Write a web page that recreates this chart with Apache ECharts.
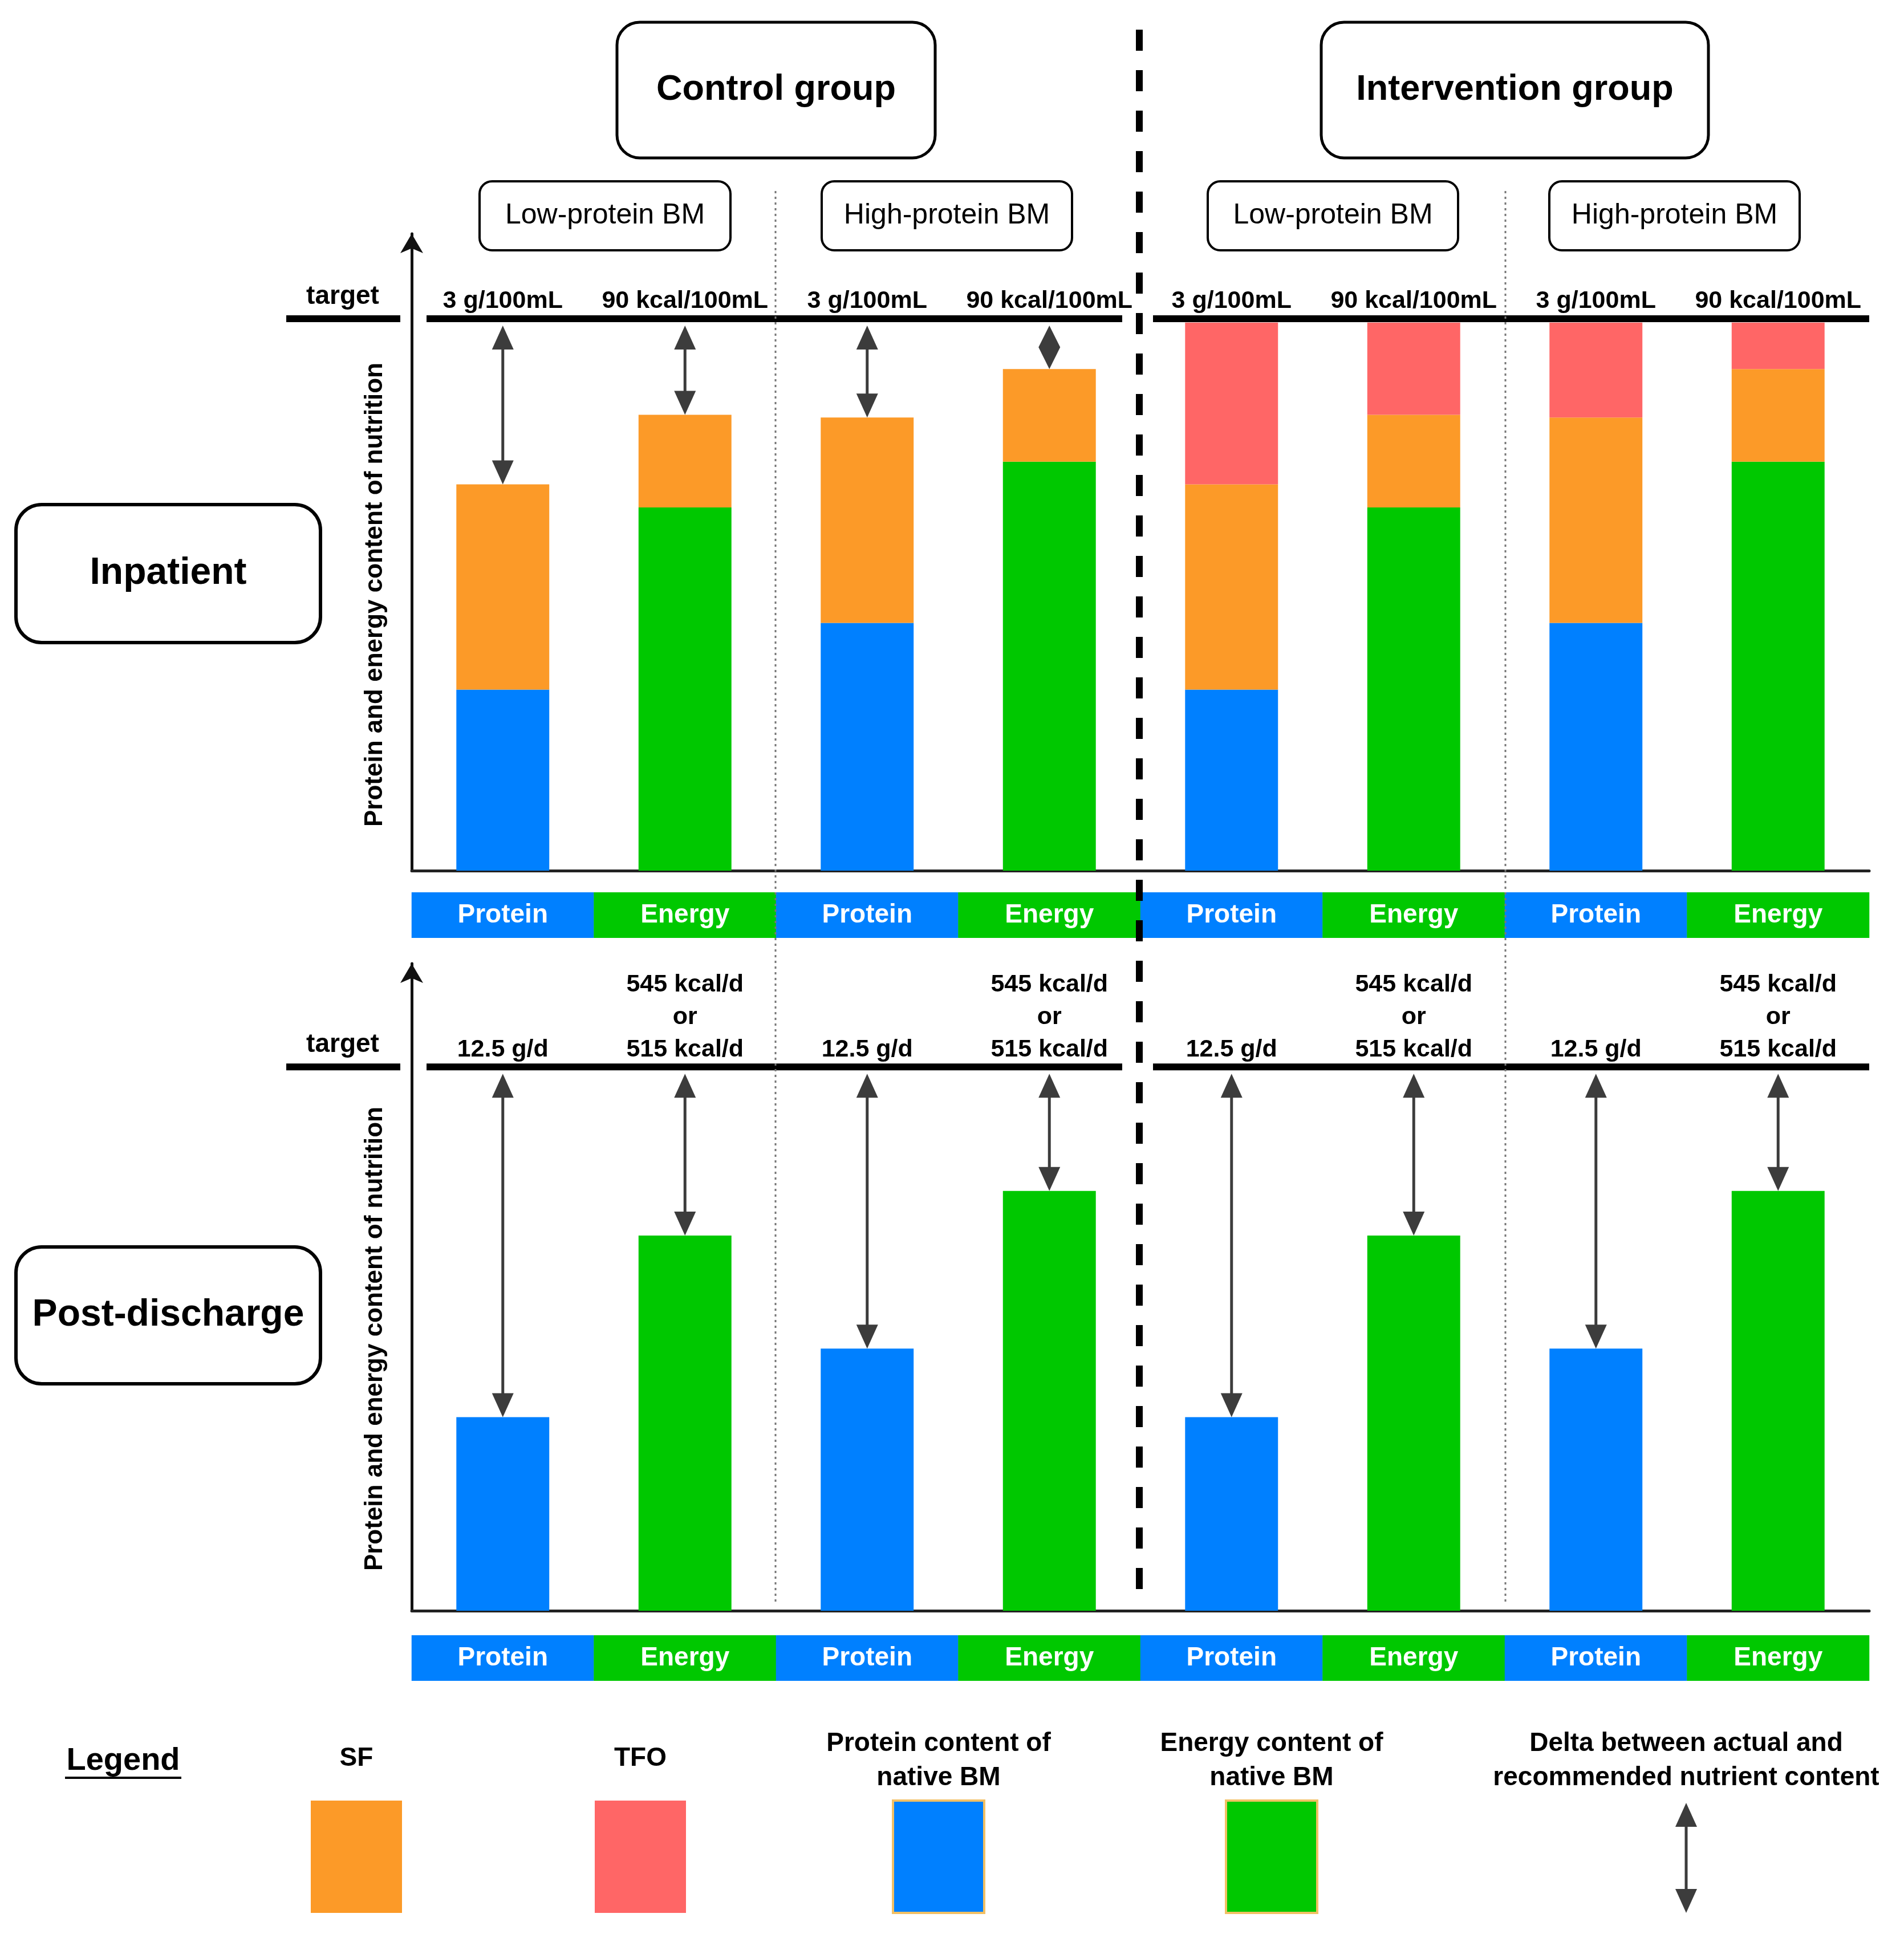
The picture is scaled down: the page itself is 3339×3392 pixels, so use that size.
<!DOCTYPE html>
<html><head><meta charset="utf-8">
<script src="https://cdn.jsdelivr.net/npm/echarts@6/dist/echarts.min.js"></script>
<style>html,body{margin:0;padding:0;background:#fff}#c{width:3339px;height:3392px}</style>
</head><body><div id="c"></div>
<script>
// ---------------- data ----------------
const categories = ['Protein','Energy','Protein','Energy','Protein','Energy','Protein','Energy'];
const groups = ['Control group','Intervention group'];
const subgroups = ['Low-protein BM','High-protein BM','Low-protein BM','High-protein BM'];
const phases = ['Inpatient','Post-discharge'];
const targetValue = 100;
const inpatientNative = [32.8, 65.8, 44.9, 74.1, 32.8, 65.8, 44.9, 74.1];
const inpatientSF     = [37.2, 16.8, 37.2, 16.8, 37.2, 16.8, 37.2, 16.8];
const inpatientTFO    = [0, 0, 0, 0, 29.3, 16.7, 17.2, 8.4];
const postNative      = [35.6, 69.0, 48.2, 77.2, 35.6, 69.0, 48.2, 77.2];
const inpatientTargetLabels = ['3 g/100mL','90 kcal/100mL','3 g/100mL','90 kcal/100mL','3 g/100mL','90 kcal/100mL','3 g/100mL','90 kcal/100mL'];
const postTargetLabels = ['12.5 g/d','545 kcal/d\nor\n515 kcal/d','12.5 g/d','545 kcal/d\nor\n515 kcal/d','12.5 g/d','545 kcal/d\nor\n515 kcal/d','12.5 g/d','545 kcal/d\nor\n515 kcal/d'];
const inpatientArrowIdx = [0, 1, 2, 3];
const postArrowIdx = [0, 1, 2, 3, 4, 5, 6, 7];
const yTitle = 'Protein and energy content of nutrition';
const targetWord = 'target';
const legendTitle = 'Legend';
const legendLabels = ['SF','TFO','Protein content of\nnative BM','Energy content of\nnative BM','Delta between actual and\nrecommended nutrient content'];

// ---------------- style ----------------
const FONT = '"Liberation Sans", Arial, Helvetica, sans-serif';
const BLUE = '#0080FF', GREEN = '#00C800', ORANGE = '#FC9A28', RED = '#FF6666', ARROW = '#3c3c3c';
const nativeColor = p => categories[p.dataIndex] === 'Protein' ? BLUE : GREEN;

function decorRender(params, api) {
  const y = api.coord([0, targetValue])[1];
  const yb = api.coord([0, 0])[1];
  const bw = api.coord([1, 0])[0] - api.coord([0, 0])[0];
  const gx = api.coord([0, 0])[0] - bw / 2;
  const l3 = api.coord([3, 0])[0] + bw / 2;
  const r4 = api.coord([4, 0])[0] - bw / 2;
  const r7 = api.coord([7, 0])[0] + bw / 2;
  const ls = {stroke: '#000', lineWidth: 12};
  return {type: 'group', children: [
    {type: 'line', shape: {x1: gx - 220, y1: y, x2: gx - 20, y2: y}, style: ls},
    {type: 'line', shape: {x1: gx + 26, y1: y, x2: l3 - 32, y2: y}, style: ls},
    {type: 'line', shape: {x1: r4 + 22, y1: y, x2: r7, y2: y}, style: ls},
    {type: 'text', x: gx - 121, y: y - 16, style: {text: targetWord, font: 'bold 46px ' + FONT, fill: '#000', align: 'center', verticalAlign: 'bottom'}},
    {type: 'text', x: gx - 64, y: (y + yb) / 2, rotation: Math.PI / 2, style: {text: yTitle, font: 'bold 44px ' + FONT, fill: '#000', align: 'center', verticalAlign: 'middle'}}
  ]};
}
function labelRender(labels) {
  return function (params, api) {
    const p = api.coord([api.value(0), api.value(1)]);
    return {type: 'text', x: p[0], y: p[1] - 2, style: {text: labels[params.dataIndex], font: 'bold 43px ' + FONT, fill: '#000', align: 'center', verticalAlign: 'bottom', lineHeight: 57}};
  };
}
function arrowShape(x, yT, yB) {
  const h = Math.min(42, (yB - yT) / 2), hw = 19;
  return [
    {type: 'line', shape: {x1: x, y1: yT + h - 2, x2: x, y2: yB - h + 2}, style: {stroke: ARROW, lineWidth: 5}},
    {type: 'polygon', shape: {points: [[x, yT], [x - hw, yT + h], [x + hw, yT + h]]}, style: {fill: ARROW}},
    {type: 'polygon', shape: {points: [[x, yB], [x - hw, yB - h], [x + hw, yB - h]]}, style: {fill: ARROW}}
  ];
}
function arrowRender(params, api) {
  const i = api.value(0);
  const x = api.coord([i, 0])[0];
  const yT = api.coord([i, api.value(2)])[1] + 12;
  const yB = api.coord([i, api.value(1)])[1];
  return {type: 'group', children: arrowShape(x, yT, yB)};
}

const stripRich = {
  p: {backgroundColor: BLUE, color: '#fff', width: 320, height: 80, lineHeight: 80, align: 'center', fontSize: 46, fontWeight: 'bold', fontFamily: FONT},
  e: {backgroundColor: GREEN, color: '#fff', width: 320, height: 80, lineHeight: 80, align: 'center', fontSize: 46, fontWeight: 'bold', fontFamily: FONT}
};
function xAxisDef(gi, margin) {
  return {type: 'category', gridIndex: gi, data: categories,
    axisLine: {lineStyle: {color: '#222', width: 5}}, axisTick: {show: false}, splitLine: {show: false},
    axisLabel: {interval: 0, margin: margin, formatter: v => v === 'Protein' ? '{p|Protein}' : '{e|Energy}', rich: stripRich}};
}
function yAxisDef(gi, max) {
  return {type: 'value', gridIndex: gi, min: 0, max: max,
    axisLine: {show: true, symbol: ['none', 'arrow'], symbolSize: [30, 34], lineStyle: {color: '#111', width: 5}},
    axisTick: {show: false}, axisLabel: {show: false}, splitLine: {show: false}};
}

// ---------------- graphics (boxes, dividers, legend) ----------------
const g = [];
function box(x, y, w, h, r, lw, text, font, z) {
  g.push({type: 'rect', shape: {x: x, y: y, width: w, height: h, r: r}, style: {fill: '#fff', stroke: '#000', lineWidth: lw}, z: z || 1});
  g.push({type: 'text', x: x + w / 2, y: y + h / 2, style: {text: text, font: font, fill: '#000', align: 'center', verticalAlign: 'middle'}, z: (z || 1) + 1});
}
box(1082, 39, 558, 238, 40, 5, groups[0], 'bold 63px ' + FONT);
box(2317, 39, 679, 238, 40, 5, groups[1], 'bold 63px ' + FONT);
[[841, 440], [1441, 439], [2118, 439], [2717, 439]].forEach((b, i) => box(b[0], 318, b[1], 121, 22, 4, subgroups[i], '50px ' + FONT));
box(28, 885, 534, 242, 45, 6, phases[0], 'bold 66px ' + FONT);
box(28, 2187, 534, 240, 45, 6, phases[1], 'bold 66px ' + FONT);
[1360, 2640].forEach(x => g.push({type: 'line', shape: {x1: x, y1: 335, x2: x, y2: 2812}, style: {stroke: '#777', lineWidth: 3, lineDash: [4, 6]}, z: 50}));
g.push({type: 'line', shape: {x1: 1998, y1: 52, x2: 1998, y2: 2812}, style: {stroke: '#000', lineWidth: 12, lineDash: [37, 34]}, z: 100});
// legend
g.push({type: 'text', x: 216, y: 3089, style: {text: legendTitle, font: 'bold 56px ' + FONT, fill: '#000', align: 'center', verticalAlign: 'middle'}});
g.push({type: 'line', shape: {x1: 114, y1: 3118, x2: 318, y2: 3118}, style: {stroke: '#000', lineWidth: 4}});
const legX = [625, 1123, 1646, 2230, 2957];
const legFill = [ORANGE, RED, BLUE, GREEN];
legendLabels.forEach((t, i) => {
  g.push({type: 'text', x: legX[i], y: i < 2 ? 3084 : 3088, style: {text: t, font: 'bold 46px ' + FONT, fill: '#000', align: 'center', verticalAlign: 'middle', lineHeight: 60}});
  if (i < 4) {
    g.push({type: 'rect', shape: {x: legX[i] - 80, y: 3158, width: 160, height: 197},
      style: {fill: legFill[i], stroke: i >= 2 ? '#F2C064' : legFill[i], lineWidth: i >= 2 ? 4 : 0}});
  }
});
g.push({type: 'group', children: arrowShape(2957, 3162, 3355)});

// ---------------- option ----------------
const option = {
  animation: false,
  backgroundColor: '#fff',
  grid: [
    {left: 722, right: 61, top: 410, bottom: 1865, outerBoundsMode: 'none'},
    {left: 722, right: 61, top: 1690, bottom: 567, outerBoundsMode: 'none'}
  ],
  xAxis: [xAxisDef(0, 38), xAxisDef(1, 43)],
  yAxis: [yAxisDef(0, 115.4), yAxisDef(1, 119.0)],
  graphic: g,
  series: [
    {name: 'Native BM', type: 'bar', xAxisIndex: 0, yAxisIndex: 0, stack: 'inp', barWidth: '51%', data: inpatientNative, itemStyle: {color: nativeColor}},
    {name: 'SF', type: 'bar', xAxisIndex: 0, yAxisIndex: 0, stack: 'inp', barWidth: '51%', data: inpatientSF, itemStyle: {color: ORANGE}},
    {name: 'TFO', type: 'bar', xAxisIndex: 0, yAxisIndex: 0, stack: 'inp', barWidth: '51%', data: inpatientTFO, itemStyle: {color: RED}},
    {name: 'Native BM post', type: 'bar', xAxisIndex: 1, yAxisIndex: 1, barWidth: '51%', data: postNative, itemStyle: {color: nativeColor}},
    {type: 'custom', xAxisIndex: 0, yAxisIndex: 0, z: 5, renderItem: decorRender, data: [[0, targetValue]]},
    {type: 'custom', xAxisIndex: 1, yAxisIndex: 1, z: 5, renderItem: decorRender, data: [[0, targetValue]]},
    {type: 'custom', xAxisIndex: 0, yAxisIndex: 0, z: 5, renderItem: labelRender(inpatientTargetLabels), data: categories.map((c, i) => [i, targetValue])},
    {type: 'custom', xAxisIndex: 1, yAxisIndex: 1, z: 5, renderItem: labelRender(postTargetLabels), data: categories.map((c, i) => [i, targetValue])},
    {type: 'custom', xAxisIndex: 0, yAxisIndex: 0, z: 6, renderItem: arrowRender,
      data: inpatientArrowIdx.map(i => [i, inpatientNative[i] + inpatientSF[i] + inpatientTFO[i], targetValue])},
    {type: 'custom', xAxisIndex: 1, yAxisIndex: 1, z: 6, renderItem: arrowRender,
      data: postArrowIdx.map(i => [i, postNative[i], targetValue])}
  ]
};
const chart = echarts.init(document.getElementById('c'), null, {renderer: 'canvas'});
chart.setOption(option);
</script>
</body></html>
